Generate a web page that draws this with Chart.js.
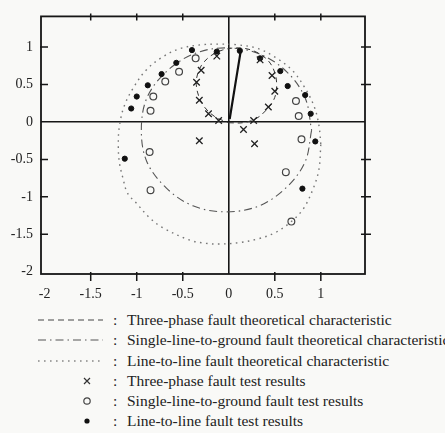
<!DOCTYPE html>
<html>
<head>
<meta charset="utf-8">
<script src="https://cdn.jsdelivr.net/npm/chart.js@4.4.1/dist/chart.umd.min.js"></script>
<style>
  html, body { margin: 0; padding: 0; background: #f9f9f7; }
  #wrap { position: relative; width: 445px; height: 433px; overflow: hidden;
          font-family: "Liberation Serif", "Times New Roman", serif; color: #222; }
  #chart { position: absolute; left: 0; top: 0; }
  .row { position: absolute; left: 0; width: 445px; height: 20px; font-size: 15.5px; line-height: 20px; white-space: nowrap; }
  .row svg { position: absolute; top: 0; left: 0; }
  .row .colon { position: absolute; top: 0; left: 113px; }
  .row .label { position: absolute; top: 0; left: 127px; }
</style>
</head>
<body>
<div id="wrap">
  <canvas id="chart" width="445" height="305"></canvas>
  <div id="legend"></div>
</div>
<script>
// tick labels
const xTicks = [-2, -1.5, -1, -0.5, 0, 0.5, 1];
const yTicks = [-2, -1.5, -1, -0.5, 0, 0.5, 1];

const seriesNames = [
    'Three-phase fault theoretical characteristic',
    'Single-line-to-ground fault theoretical characteristic',
    'Line-to-line fault theoretical characteristic',
    'Three-phase fault test results',
    'Single-line-to-ground fault test results',
    'Line-to-line fault test results'
];

// theoretical characteristics as [x, y]
const threePhaseCurve = [
    [0.00, -0.01], [0.15, -0.01], [0.29, 0.04], [0.40, 0.15], [0.49, 0.30], [0.52, 0.47],
    [0.50, 0.66], [0.42, 0.83], [0.27, 0.95], [0.10, 0.99], [-0.07, 0.96], [-0.20, 0.88],
    [-0.30, 0.75], [-0.35, 0.58], [-0.34, 0.40], [-0.27, 0.21], [-0.15, 0.07], [0.00, -0.01]
];
const slgCurve = [
    [0.90, -0.11], [0.83, -0.53], [0.63, -0.87], [0.33, -1.12], [-0.03, -1.20], [-0.39, -1.12],
    [-0.68, -0.88], [-0.89, -0.53], [-0.95, -0.11], [-0.89, 0.32], [-0.68, 0.67], [-0.38, 0.91],
    [-0.03, 0.99], [0.33, 0.91], [0.63, 0.67], [0.83, 0.32], [0.90, -0.11]
];
const lineLineCurve = [
    [1.00, -0.30], [0.98, -0.63], [0.92, -0.88], [0.81, -1.16], [0.67, -1.34], [0.50, -1.48],
    [0.32, -1.56], [0.12, -1.61], [-0.10, -1.63], [-0.25, -1.62], [-0.42, -1.58], [-0.72, -1.41],
    [-0.86, -1.28], [-1.00, -1.09], [-1.10, -0.95], [-1.15, -0.75], [-1.19, -0.53], [-1.20, -0.30],
    [-1.19, -0.07], [-1.14, 0.20], [-1.04, 0.45], [-0.90, 0.69], [-0.73, 0.86], [-0.53, 0.98],
    [-0.31, 1.03], [-0.11, 1.04], [0.10, 1.03], [0.32, 0.98], [0.51, 0.86], [0.69, 0.69],
    [0.83, 0.45], [0.93, 0.20], [0.98, -0.05], [1.00, -0.30]
];
const faultVector = [[0.01, 0.04], [0.13, 0.95]];

// test results
const threePhaseTests = [
    [-0.13, 0.88], [-0.30, 0.69], [-0.35, 0.53], [-0.32, 0.29], [-0.22, 0.11], [-0.11, 0.02],
    [0.16, -0.10], [0.27, 0.02], [0.43, 0.20], [0.50, 0.41], [0.47, 0.62], [0.34, 0.83],
    [-0.32, -0.25], [0.28, -0.29]
];
const slgTests = [
    [-0.36, 0.85], [-0.54, 0.67], [-0.69, 0.54], [-0.82, 0.34], [-0.85, 0.15], [-0.86, -0.40],
    [-0.85, -0.91], [0.68, -1.33], [0.62, -0.67], [0.79, -0.23], [0.76, 0.08], [0.73, 0.28]
];
const lineLineTests = [
    [-0.40, 0.96], [-0.57, 0.79], [-0.73, 0.64], [-0.88, 0.49], [-1.00, 0.34], [-1.06, 0.18],
    [-1.13, -0.49], [-0.13, 0.94], [0.12, 0.95], [0.34, 0.85], [0.56, 0.68], [0.64, 0.48],
    [0.83, 0.36], [0.89, 0.11], [0.94, -0.26], [0.80, -0.89]
];

const toXY = pts => pts.map(([x, y]) => ({ x, y }));

const lineSet = (pts, color, dash, width) => ({
    data: toXY(pts), showLine: true, fill: false, pointRadius: 0,
    borderColor: color, borderWidth: width, borderDash: dash, tension: 0.35
});

const frameTicks = {
    id: 'frameTicks',
    afterDatasetsDraw(chart) {
        const { ctx, chartArea: a, scales: { x, y } } = chart;
        ctx.save();
        ctx.strokeStyle = '#161616';
        ctx.lineWidth = 1.8;
        ctx.strokeRect(a.left, a.top, a.right - a.left, a.bottom - a.top);
        ctx.lineWidth = 1.5;
        ctx.beginPath();
        xTicks.forEach(v => {
            if (v === 0 || v === xTicks[0]) return;
            const px = x.getPixelForValue(v);
            ctx.moveTo(px, a.top - 3); ctx.lineTo(px, a.top + 4);
            ctx.moveTo(px, a.bottom - 2); ctx.lineTo(px, a.bottom + 7);
        });
        yTicks.forEach(v => {
            if (v === 0 || v === yTicks[0]) return;
            const py = y.getPixelForValue(v);
            ctx.moveTo(a.left - 1, py); ctx.lineTo(a.left + 7, py);
            ctx.moveTo(a.right - 4, py); ctx.lineTo(a.right + 6, py);
        });
        ctx.stroke();
        ctx.restore();
    }
};

const axisLine = c => (c.tick && c.tick.value === 0) ? '#161616' : 'rgba(0,0,0,0)';
const tickFont = { family: 'Liberation Serif', size: 14 };

new Chart(document.getElementById('chart'), {
    type: 'scatter',
    data: {
        datasets: [
            lineSet(faultVector, '#111', [], 2.2),
            {
                label: seriesNames[3], data: toXY(threePhaseTests), pointStyle: 'crossRot',
                pointRadius: 4.6, borderColor: '#222', borderWidth: 1.3
            },
            {
                label: seriesNames[4], data: toXY(slgTests), pointStyle: 'circle',
                pointRadius: 3.4, borderColor: '#444', backgroundColor: 'rgba(0,0,0,0)', borderWidth: 1.2
            },
            {
                label: seriesNames[5], data: toXY(lineLineTests), pointStyle: 'circle',
                pointRadius: 2.6, borderColor: '#111', backgroundColor: '#111', borderWidth: 1
            },
            Object.assign(lineSet(threePhaseCurve, '#333', [5, 4], 1), { label: seriesNames[0] }),
            Object.assign(lineSet(slgCurve, '#555', [8, 4, 1.5, 4], 1.1), { label: seriesNames[1] }),
            Object.assign(lineSet(lineLineCurve, '#777', [1.6, 4.4], 1.4), { label: seriesNames[2] })
        ]
    },
    options: {
        responsive: false,
        animation: false,
        layout: { padding: { top: 13, right: 80, left: 0, bottom: 0 } },
        plugins: { legend: { display: false }, tooltip: { enabled: false } },
        scales: {
            x: {
                type: 'linear', min: -2.04, max: 1.48,
                afterBuildTicks: s => { s.ticks = xTicks.map(v => ({ value: v })); },
                afterFit: s => { s.height = 31; },
                border: { display: false },
                grid: { drawTicks: false, color: axisLine, lineWidth: 1.6 },
                ticks: { padding: 12, font: tickFont, color: '#222', autoSkip: false, maxRotation: 0, callback: v => String(v) }
            },
            y: {
                type: 'linear', min: -2.03, max: 1.41,
                afterBuildTicks: s => { s.ticks = yTicks.map(v => ({ value: v })); },
                afterFit: s => { s.width = 41; },
                border: { display: false },
                grid: { drawTicks: false, color: axisLine, lineWidth: 1.6 },
                ticks: { padding: 8, font: tickFont, color: '#222', autoSkip: false, callback: v => String(v) }
            }
        }
    },
    plugins: [frameTicks]
});

// legend below the plot: sample, colon, text
const legendRows = [
    { top: 310, kind: 'dash' },
    { top: 330, kind: 'dashdot' },
    { top: 351, kind: 'dot' },
    { top: 371, kind: 'x' },
    { top: 391, kind: 'o' },
    { top: 411, kind: 'fill' }
];
const sample = kind => {
    const line = (dash, color, w) =>
        `<line x1="38" y1="10" x2="103" y2="10" stroke="${color}" stroke-width="${w}" stroke-dasharray="${dash}"/>`;
    let body = '';
    if (kind === 'dash') body = line('6 4', '#444', 1);
    if (kind === 'dashdot') body = line('8 4 1.5 4', '#555', 1.1);
    if (kind === 'dot') body = line('1.6 4.4', '#888', 1.4);
    if (kind === 'x') body = '<path d="M84 7 L90 13 M90 7 L84 13" stroke="#333" stroke-width="1.2"/>';
    if (kind === 'o') body = '<circle cx="87" cy="10" r="3.2" fill="none" stroke="#444" stroke-width="1.2"/>';
    if (kind === 'fill') body = '<circle cx="87" cy="10" r="2.6" fill="#111"/>';
    return `<svg width="120" height="20">${body}</svg>`;
};
document.getElementById('legend').innerHTML = legendRows.map((r, i) =>
    `<div class="row" style="top:${r.top}px">${sample(r.kind)}<span class="colon">:</span><span class="label">${seriesNames[i]}</span></div>`
).join('');
</script>
</body>
</html>
